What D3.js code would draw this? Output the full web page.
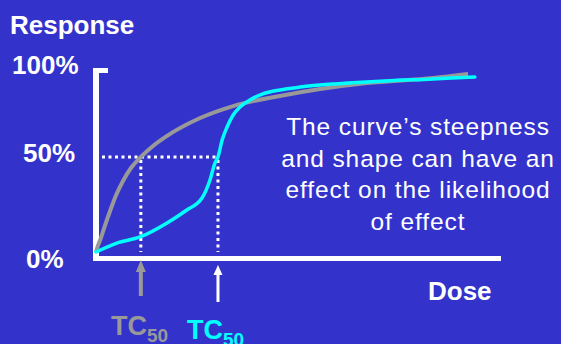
<!DOCTYPE html>
<html>
<head>
<meta charset="utf-8">
<script src="https://cdn.jsdelivr.net/npm/d3@7"></script>
<style>
  html, body { margin: 0; padding: 0; background: #3333cc; }
  svg { display: block; font-family: "Liberation Sans", Arial, sans-serif; }
</style>
</head>
<body>
<svg id="chart" width="561" height="344"></svg>
<script>
// Dose (0-100 relative units) and response (%)
const grayDose = [0, 0.5, 1.1, 2.4, 3.7, 5.3, 7.1, 9.2, 11.8, 15.0, 18.7, 27.4, 36.1, 48.4, 71.3, 88.7, 97.9];
const grayResp = [0, 3.2, 6.3, 14.2, 21.6, 30.0, 37.4, 44.2, 50.0, 55.8, 61.1, 70.5, 76.8, 82.1, 88.9, 91.6, 93.7];
const cyanDose = [0, 5.5, 11.6, 18.7, 23.9, 27.9, 30.0, 31.3, 32.1, 33.2, 34.5, 36.1, 37.9, 40.5, 43.9, 48.4, 53.7, 62.4, 71.3, 88.7, 99.7];
const cyanResp = [0, 4.7, 7.9, 15.3, 22.1, 28.4, 37.9, 46.8, 50.0, 58.9, 65.8, 72.1, 76.3, 80.0, 83.2, 85.3, 86.8, 88.4, 89.5, 91.1, 92.1];
const tc50Gray = 11.8;
const tc50Cyan = 32.1;
const yTickLabels = ["100%", "50%", "0%"];
const noteLines = ["The curve\u2019s steepness", "and shape can have an", "effect on the likelihood", "of effect"];

const svg = d3.select("#chart");
const x = d3.scaleLinear().domain([0, 100]).range([96, 476]);
const y = d3.scaleLinear().domain([0, 100]).range([252, 62]);

// axes
svg.append("rect").attr("x", 93).attr("y", 68).attr("width", 6).attr("height", 193).attr("fill", "#fff");
svg.append("rect").attr("x", 93).attr("y", 68).attr("width", 15).attr("height", 5).attr("fill", "#fff");
svg.append("rect").attr("x", 93).attr("y", 256).attr("width", 408).attr("height", 5).attr("fill", "#fff");

// text labels
const bold = { "font-weight": "bold", "fill": "#fff", "font-size": "26px" };
function txt(s, tx, ty, attrs) {
  const t = svg.append("text").attr("x", tx).attr("y", ty).text(s);
  Object.entries(attrs).forEach(([k, v]) => t.attr(k, v));
  return t;
}
txt("Response", 10, 34, bold);
txt("Dose", 428, 300, bold);
const tickX = [12, 23, 26];
const tickY = [74, 162, 268];
yTickLabels.forEach((s, i) => txt(s, tickX[i], tickY[i], bold));

// dotted guides
const dots = { stroke: "#fff", "stroke-width": 3, "stroke-dasharray": "3,3.5", fill: "none" };
function dline(x1, y1, x2, y2) {
  const l = svg.append("line").attr("x1", x1).attr("y1", y1).attr("x2", x2).attr("y2", y2);
  Object.entries(dots).forEach(([k, v]) => l.attr(k, v));
}
dline(102, y(50), x(tc50Cyan) + 1, y(50));
dline(x(tc50Gray), y(50) + 3, x(tc50Gray), y(0));
dline(x(tc50Cyan), y(50) + 3, x(tc50Cyan), y(0));

// curves
const line = d3.line().x(d => x(d[0])).y(d => y(d[1])).curve(d3.curveMonotoneX);
svg.append("path").datum(d3.zip(grayDose, grayResp)).attr("d", line)
  .attr("fill", "none").attr("stroke", "#999999").attr("stroke-width", 4);
svg.append("path").datum(d3.zip(cyanDose, cyanResp)).attr("d", line)
  .attr("fill", "none").attr("stroke", "#00ffff").attr("stroke-width", 3.5).attr("stroke-linecap", "round");

// arrows
function arrow(cx, tip, bottom, headH, headW, shaftW, color) {
  svg.append("rect").attr("x", cx - shaftW / 2).attr("y", tip + headH - 1).attr("width", shaftW)
    .attr("height", bottom - tip - headH + 1).attr("fill", color);
  svg.append("path").attr("d", `M${cx},${tip}L${cx - headW / 2},${tip + headH}L${cx + headW / 2},${tip + headH}Z`).attr("fill", color);
}
arrow(x(tc50Gray), 260, 296, 12, 10, 4, "#999999");
arrow(x(tc50Cyan), 265, 302, 10, 9, 3, "#ffffff");

// TC50 labels
function tc(tx, ty, color) {
  const t = svg.append("text").attr("x", tx).attr("y", ty).attr("fill", color).attr("font-weight", "bold").attr("font-size", "27px");
  t.append("tspan").text("TC");
  t.append("tspan").attr("dy", 7).attr("font-size", "19px").text("50");
}
tc(111, 335, "#999999");
tc(187, 339, "#00ffff");

// annotation
const note = svg.append("text").attr("fill", "#fff").attr("font-size", "24.5px")
  .attr("letter-spacing", "0.9px").attr("text-anchor", "middle");
noteLines.forEach((s, i) => note.append("tspan").attr("x", 418).attr("y", 135 + i * 31.7).text(s));
</script>
</body>
</html>
